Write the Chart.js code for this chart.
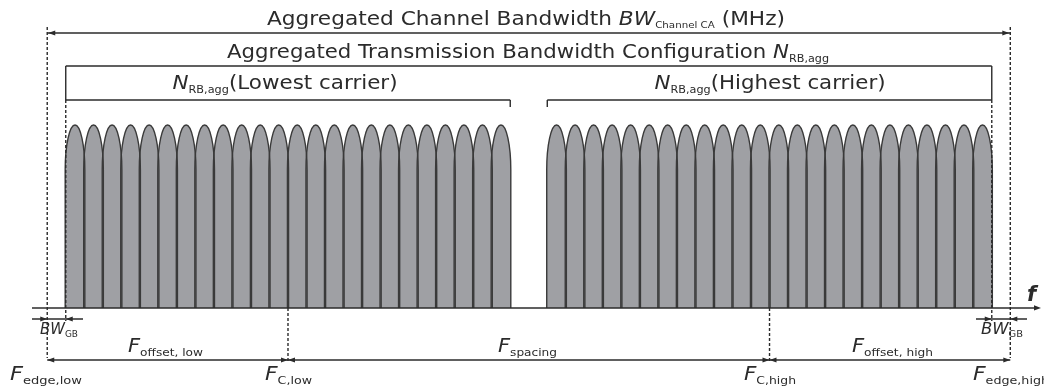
<!DOCTYPE html>
<html>
<head>
<meta charset="utf-8">
<script src="https://cdn.jsdelivr.net/npm/chart.js@4.4.1/dist/chart.umd.min.js"></script>
<style>
  html, body { margin: 0; padding: 0; background: #fff; overflow: hidden; }
  #wrap { width: 1044px; height: 387px; }
</style>
</head>
<body>
<div id="wrap"><canvas id="c" width="1044" height="387"></canvas></div>
<script>
// Resource blocks of the two aggregated component carriers (RB index on the frequency axis)
const lowCarrierRB  = [0, 1, 2, 3, 4, 5, 6, 7, 8, 9, 10, 11, 12, 13, 14, 15, 16, 17, 18, 19, 20, 21, 22, 23];
const highCarrierRB = [26, 27, 28, 29, 30, 31, 32, 33, 34, 35, 36, 37, 38, 39, 40, 41, 42, 43, 44, 45, 46, 47, 48, 49];
// Relative level of each resource block
const lowCarrierLevel  = [1, 1, 1, 1, 1, 1, 1, 1, 1, 1, 1, 1, 1, 1, 1, 1, 1, 1, 1, 1, 1, 1, 1, 1];
const highCarrierLevel = [1, 1, 1, 1, 1, 1, 1, 1, 1, 1, 1, 1, 1, 1, 1, 1, 1, 1, 1, 1, 1, 1, 1, 1];
// Frequency markers (RB units)
const edgeLow = -1.5, rbEdgeLow = -0.5, centreLow = 11.5, lowCarrierEnd = 23.5;
const highCarrierStart = 25.5, centreHigh = 37.5, rbEdgeHigh = 49.5, edgeHigh = 50.5;

const INK = '#2b2b2b';
const LOBE_FILL = '#9fa0a4';
const LOBE_EDGE = '#3a3a3a';
const FONT = '"DejaVu Sans", "Open Sans", sans-serif';

// Text made of runs: n = regular, i = italic, s = subscript.
// When a width is given, the glyphs are stretched horizontally so the label spans that width.
function rich(ctx, runs, x, y, size, subSize, align, width) {
  const fontOf = (k) => k === 'i' ? `italic ${size}px ${FONT}` : k === 's' ? `${subSize}px ${FONT}` : `${size}px ${FONT}`;
  let w = 0;
  for (const [k, t] of runs) { ctx.font = fontOf(k); w += ctx.measureText(t).width; }
  const sx = width ? width / w : 1;
  const total = w * sx;
  const left = align === 'center' ? x - total / 2 : x;
  ctx.save();
  ctx.translate(left, y);
  ctx.scale(sx, 1);
  ctx.textAlign = 'left';
  ctx.textBaseline = 'alphabetic';
  let cx = 0;
  for (const [k, t] of runs) {
    ctx.font = fontOf(k);
    ctx.fillText(t, cx, k === 's' ? Math.round(subSize * 0.35) : 0);
    cx += ctx.measureText(t).width;
  }
  ctx.restore();
}

function arrowHead(ctx, x, y, dir) {
  ctx.beginPath();
  ctx.moveTo(x, y);
  ctx.lineTo(x - dir * 7, y - 2.6);
  ctx.lineTo(x - dir * 7, y + 2.6);
  ctx.closePath();
  ctx.fill();
}

function line(ctx, x1, y1, x2, y2) {
  ctx.beginPath();
  ctx.moveTo(x1, y1);
  ctx.lineTo(x2, y2);
  ctx.stroke();
}

function dashed(ctx, x, y1, y2) {
  ctx.save();
  ctx.setLineDash([3, 2]);
  ctx.lineWidth = 1.4;
  line(ctx, x, y1, x, y2);
  ctx.restore();
}

// Each resource block is drawn as an arched lobe on the bar geometry computed by Chart.js
const lobePlugin = {
  id: 'lobes',
  afterDatasetsDraw(chart) {
    const ctx = chart.ctx;
    const bars = [];
    chart.data.datasets.forEach((ds, i) => {
      chart.getDatasetMeta(i).data.forEach((el) => {
        bars.push(el.getProps(['x', 'y', 'base', 'width'], true));
      });
    });
    const path = (b) => {
      const hw = b.width / 2;
      const ry = (b.base - b.y) * 0.245;
      ctx.beginPath();
      ctx.moveTo(b.x - hw, b.base);
      ctx.lineTo(b.x - hw, b.y + ry);
      ctx.ellipse(b.x, b.y + ry, hw, ry, 0, Math.PI, 2 * Math.PI);
      ctx.lineTo(b.x + hw, b.base);
    };
    ctx.save();
    ctx.fillStyle = LOBE_FILL;
    bars.forEach((b) => { path(b); ctx.closePath(); ctx.fill(); });
    ctx.strokeStyle = LOBE_EDGE;
    ctx.lineWidth = 1.4;
    bars.forEach((b) => { path(b); ctx.stroke(); });
    ctx.restore();
  }
};

// Bandwidth brackets, frequency markers and labels
const annotationPlugin = {
  id: 'bandAnnotations',
  afterDraw(chart) {
    const ctx = chart.ctx;
    const xs = chart.scales.x, ys = chart.scales.y;
    const X = (v) => xs.getPixelForValue(v);
    const yBase = ys.getPixelForValue(0);
    const xEL = X(edgeLow), xRL = X(rbEdgeLow), xCL = X(centreLow), xLE = X(lowCarrierEnd);
    const xHS = X(highCarrierStart), xCH = X(centreHigh), xRH = X(rbEdgeHigh), xEH = X(edgeHigh);

    ctx.save();
    ctx.strokeStyle = INK;
    ctx.fillStyle = INK;
    ctx.lineWidth = 1.4;

    // Aggregated channel bandwidth
    line(ctx, xEL, 33, xEH, 33);
    arrowHead(ctx, xEL + 1, 33, -1);
    arrowHead(ctx, xEH - 1, 33, 1);
    dashed(ctx, xEL, 27, 358);
    dashed(ctx, xEH, 27, 358);

    // Aggregated transmission bandwidth configuration
    line(ctx, xRL, 66, xRH, 66);
    line(ctx, xRL, 66, xRL, 100);
    line(ctx, xRH, 66, xRH, 100);

    // Per-carrier transmission bandwidth configuration
    line(ctx, xRL, 100, xLE, 100);
    line(ctx, xLE, 100, xLE, 107);
    line(ctx, xHS, 100, xRH, 100);
    line(ctx, xHS, 100, xHS, 107);
    dashed(ctx, xRL, 100, 321);
    dashed(ctx, xRH, 100, 321);

    // Frequency axis
    line(ctx, 32, yBase, 1036, yBase);
    arrowHead(ctx, 1041, yBase, 1);

    // Guard bands
    line(ctx, 32, 319, 83, 319);
    arrowHead(ctx, xEL, 319, 1);
    arrowHead(ctx, xRL, 319, -1);
    line(ctx, 976, 319, 1027, 319);
    arrowHead(ctx, xRH, 319, 1);
    arrowHead(ctx, xEH, 319, -1);

    // Carrier centre markers and offsets
    dashed(ctx, xCL, yBase, 362);
    dashed(ctx, xCH, yBase, 362);
    line(ctx, xEL, 360, xEH, 360);
    arrowHead(ctx, xEL, 360, -1);
    arrowHead(ctx, xCL, 360, 1);
    arrowHead(ctx, xCL, 360, -1);
    arrowHead(ctx, xCH, 360, 1);
    arrowHead(ctx, xCH, 360, -1);
    arrowHead(ctx, xEH, 360, 1);

    // Labels
    rich(ctx, [['n', 'Aggregated Channel Bandwidth '], ['i', 'BW'], ['s', 'Channel CA'], ['n', ' (MHz)']], 526, 25, 19, 9, 'center', 518);
    rich(ctx, [['n', 'Aggregated Transmission Bandwidth Configuration '], ['i', 'N'], ['s', 'RB,agg']], 528, 58, 19, 10, 'center', 602);
    rich(ctx, [['i', 'N'], ['s', 'RB,agg'], ['n', '(Lowest carrier)']], 285, 89, 19, 10, 'center', 225);
    rich(ctx, [['i', 'N'], ['s', 'RB,agg'], ['n', '(Highest carrier)']], 770, 89, 19, 10, 'center', 231);

    rich(ctx, [['i', 'BW'], ['s', 'GB']], 40, 334, 15, 9, 'left', 38);
    rich(ctx, [['i', 'BW'], ['s', 'GB']], 981, 334, 15, 9, 'left', 42);

    rich(ctx, [['i', 'F'], ['s', 'offset, low']], 128, 352, 19, 11, 'left', 75);
    rich(ctx, [['i', 'F'], ['s', 'spacing']], 498, 352, 19, 11, 'left', 59);
    rich(ctx, [['i', 'F'], ['s', 'offset, high']], 852, 352, 19, 11, 'left', 81);

    rich(ctx, [['i', 'F'], ['s', 'edge,low']], 10, 380, 19, 11, 'left', 72);
    rich(ctx, [['i', 'F'], ['s', 'C,low']], 265, 380, 19, 11, 'left', 47);
    rich(ctx, [['i', 'F'], ['s', 'C,high']], 744, 380, 19, 11, 'left', 52);
    rich(ctx, [['i', 'F'], ['s', 'edge,high']], 973, 380, 19, 11, 'left', 76);

    ctx.font = `italic bold 21px ${FONT}`;
    ctx.fillText('f', 1027, 301);
    ctx.restore();
  }
};

const toPoints = (xsArr, ysArr) => xsArr.map((v, i) => ({ x: v, y: ysArr[i] }));
const hiddenBar = { backgroundColor: 'rgba(0,0,0,0)', borderColor: 'rgba(0,0,0,0)', borderWidth: 0 };

new Chart(document.getElementById('c'), {
  type: 'bar',
  data: {
    datasets: [
      Object.assign({ label: 'Lowest carrier', data: toPoints(lowCarrierRB, lowCarrierLevel) }, hiddenBar),
      Object.assign({ label: 'Highest carrier', data: toPoints(highCarrierRB, highCarrierLevel) }, hiddenBar)
    ]
  },
  options: {
    responsive: false,
    animation: false,
    events: [],
    layout: { padding: 0 },
    datasets: {
      bar: {
        grouped: false,
        barPercentage: 1.06,
        categoryPercentage: 1
      }
    },
    scales: {
      x: { type: 'linear', offset: false, min: -4.05, max: 52.32, display: false },
      y: { type: 'linear', min: -0.432, max: 1.683, display: false }
    },
    plugins: {
      colors: { enabled: false },
      legend: { display: false },
      tooltip: { enabled: false },
      title: { display: false }
    }
  },
  plugins: [lobePlugin, annotationPlugin]
});
</script>
</body>
</html>
